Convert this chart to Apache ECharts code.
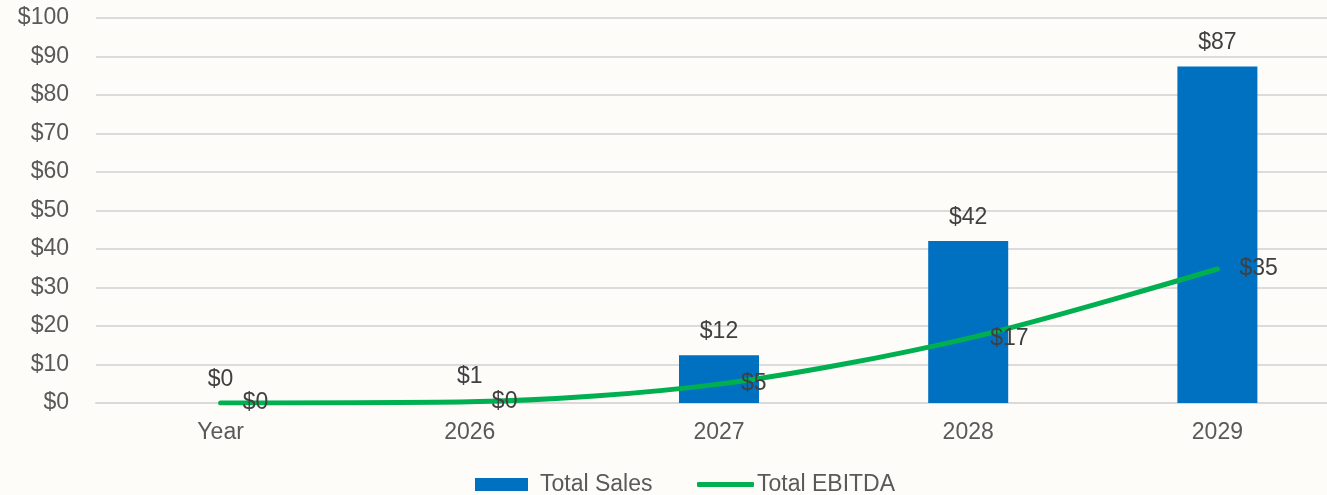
<!DOCTYPE html>
<html>
<head>
<meta charset="utf-8">
<script src="https://cdn.jsdelivr.net/npm/echarts@6/dist/echarts.min.js"></script>
<style>
  html, body { margin: 0; padding: 0; background: #FDFCF9; }
  #chart { width: 1327px; height: 495px; }
</style>
</head>
<body>
<div id="chart"></div>
<script>
const categories = ['Year', '2026', '2027', '2028', '2029']
const totalSales = [0, 0.8, 12.4, 42.1, 87.4]
const totalEbitda = [0, 0.3, 4.9, 16.8, 34.8]

const font = 'Liberation Sans, Arial, sans-serif'
const money = p => '$' + Math.round(p.value)

const chart = echarts.init(document.getElementById('chart'))
chart.setOption({
  backgroundColor: '#FDFCF9',
  animation: false,
  textStyle: { fontFamily: font },
  grid: { left: 96, top: 18, width: 1246, height: 385, outerBoundsMode: 'none' },
  legend: [
    {
      data: [{ name: 'Total Sales', icon: 'rect' }],
      left: 470,
      top: 468,
      itemWidth: 53,
      itemHeight: 13,
      textStyle: { fontSize: 23, color: '#595959', fontFamily: font, padding: [0, 0, 0, 7] }
    },
    {
      data: [{ name: 'Total EBITDA', icon: 'roundRect' }],
      left: 692,
      top: 468,
      itemWidth: 57,
      itemHeight: 5,
      textStyle: { fontSize: 23, color: '#595959', fontFamily: font, padding: [0, 0, 0, -2] }
    }
  ],
  xAxis: {
    type: 'category',
    data: categories,
    axisTick: { show: false },
    axisLine: { lineStyle: { color: '#D9D9D9', width: 2 } },
    axisLabel: { fontSize: 23, color: '#595959', margin: 18 }
  },
  yAxis: {
    type: 'value',
    min: 0,
    max: 100,
    interval: 10,
    axisLine: { show: false },
    axisTick: { show: false },
    axisLabel: { fontSize: 23, color: '#595959', margin: 27, formatter: v => '$' + v },
    splitLine: { lineStyle: { color: '#DCDCDC', width: 2 } }
  },
  series: [
    {
      name: 'Total Sales',
      type: 'bar',
      data: totalSales,
      barWidth: 80,
      itemStyle: { color: '#0070C0' },
      label: {
        show: true,
        position: 'top',
        distance: 12,
        fontSize: 23,
        color: '#404040',
        formatter: money
      }
    },
    {
      name: 'Total EBITDA',
      type: 'line',
      data: totalEbitda,
      smooth: 0.3,
      symbol: 'circle',
      symbolSize: 0.1,
      showSymbol: true,
      lineStyle: { color: '#00B050', width: 5, cap: 'round' },
      itemStyle: { color: '#00B050' },
      label: {
        show: true,
        position: 'right',
        distance: 22,
        fontSize: 23,
        color: '#404040',
        formatter: money
      }
    }
  ]
})
</script>
</body>
</html>
